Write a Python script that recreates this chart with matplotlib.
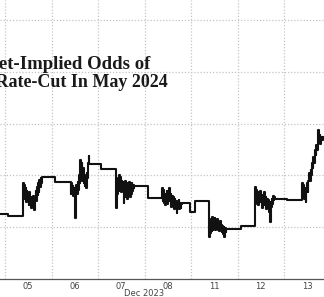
import numpy as np
import matplotlib
matplotlib.use("Agg")
import matplotlib.pyplot as plt

# Trading-day time (0 = start of Dec 05 day) and market-implied odds (%)
t_pre = [-0.108, 0.065]
v_pre = [22.5, 22.2]

s1_start, s1_end = 0.387, 0.782
v_s1 = [28.6, 25.5, 28.2, 26.0, 27.5, 24.8, 27.0, 25.2, 26.5, 24.2, 26.8, 24.5, 25.8, 23.8, 25.5,
        24.0, 26.0, 24.8, 23.3, 25.5, 27.0, 25.0, 27.8, 26.2, 28.5, 26.8, 29.2, 27.8, 29.5, 28.6]
t_n1 = [0.796, 1.075]
v_n1 = [29.8, 28.8]

s2_start, s2_end = 1.398, 1.800
v_s2 = [28.8, 26.5, 28.5, 26.8, 28.0, 26.0, 27.5, 25.5, 21.8, 26.0, 28.2, 26.5, 28.8, 27.2, 30.0,
        28.5, 33.0, 30.5, 32.5, 29.0, 31.5, 28.5, 30.0, 28.0, 29.5, 27.6, 30.5, 29.5, 32.5, 33.8]
t_n2 = [1.806, 2.065]
v_n2 = [32.2, 31.3]

s3_start, s3_end = 2.387, 2.782
v_s3 = [23.7, 29.0, 26.5, 29.5, 27.0, 30.1, 27.5, 29.8, 26.8, 29.0, 27.5, 28.8, 24.7, 28.0, 25.8,
        29.0, 26.5, 28.5, 25.5, 28.2, 26.8, 28.8, 25.8, 28.0, 26.5, 28.5, 27.0, 28.2, 27.5, 28.0]
t_n3 = [2.796, 3.075]
v_n3 = [28.0, 25.65]

s4_start, s4_end = 3.376, 3.792
v_s4 = [27.6, 25.0, 27.2, 24.6, 26.5, 24.2, 26.0, 27.0, 24.5, 26.8, 25.0, 27.5, 25.2, 26.5, 24.0,
        26.0, 24.8, 25.8, 23.5, 25.5, 24.2, 25.0, 22.75, 24.8, 23.8, 25.2, 23.5, 24.6, 23.8, 24.5]
t_n4 = [3.806, 3.978, 4.086]
v_n4 = [24.7, 22.9, 25.1]

s5_start, s5_end = 4.387, 4.760
v_s5 = [18.1, 21.0, 18.8, 21.5, 19.2, 22.0, 19.5, 21.2, 19.8, 21.8, 19.4, 21.0, 20.0, 21.6, 19.5,
        20.8, 19.2, 21.2, 19.6, 20.5, 19.0, 20.2, 18.6, 20.0, 18.1, 19.8, 19.0, 19.6]
t_n5 = [4.774, 5.075]
v_n5 = [19.7, 20.2]

s6_start, s6_end = 5.376, 5.792
v_s6 = [27.8, 24.8, 27.2, 24.5, 26.8, 24.2, 26.5, 24.8, 27.0, 25.0, 26.2, 23.8, 26.0, 24.2, 26.8,
        24.5, 25.8, 23.6, 25.5, 24.0, 25.2, 23.0, 24.8, 21.0, 24.0, 25.5, 24.5, 26.0, 25.2, 25.8]
t_n6 = [5.806, 6.065]
v_n6 = [25.5, 25.3]

s7_start, s7_end = 6.387, 6.830
v_s7 = [28.6, 26.0, 28.2, 25.5, 27.5, 24.9, 27.0, 28.5, 26.8, 29.0, 30.5, 29.0, 31.1, 30.0, 32.5,
        31.5, 33.6, 32.5, 35.0, 34.0, 35.9, 35.0, 37.5, 38.8, 37.0, 37.8, 36.0, 37.5, 36.8, 37.4]

day_labels = ["05", "06", "07", "08", "11", "12", "13"]
month_label = "Dec 2023"
title_line1 = "Market-Implied Odds of"
title_line2 = "a Rate-Cut In May 2024"
grid_levels = [20, 30, 40, 50, 60]


def session(start, end, vals):
    return np.linspace(start, end, len(vals)), np.asarray(vals, dtype=float)


parts_t, parts_v = [np.asarray(t_pre)], [np.asarray(v_pre)]
for (a, b, vals), (tn, vn) in zip(
    [(s1_start, s1_end, v_s1), (s2_start, s2_end, v_s2), (s3_start, s3_end, v_s3),
     (s4_start, s4_end, v_s4), (s5_start, s5_end, v_s5), (s6_start, s6_end, v_s6),
     (s7_start, s7_end, v_s7)],
    [(t_n1, v_n1), (t_n2, v_n2), (t_n3, v_n3), (t_n4, v_n4), (t_n5, v_n5), (t_n6, v_n6), ([], [])],
):
    ts, vs = session(a, b, vals)
    parts_t += [ts, np.asarray(tn, dtype=float)]
    parts_v += [vs, np.asarray(vn, dtype=float)]
t = np.concatenate(parts_t)
v = np.concatenate(parts_v)

W, H = 324, 297
fig = plt.figure(figsize=(W / 100, H / 100), dpi=100)
ax = fig.add_axes([0, (H - 279) / H, 1, 279 / H])

ax.plot(t, v, drawstyle="steps-post", color="#111111", lw=1.5, zorder=3)

ax.set_xlim(-0.1075, 6.86)
ax.set_ylim(10, 63.9)

for g in grid_levels:
    ax.axhline(g, color="#c4c4c4", lw=0.9, ls=(0, (1, 1.5)), zorder=1)
for d in range(7):
    ax.axvline(d, color="#c4c4c4", lw=0.9, ls=(0, (1, 1.5)), zorder=1)

for s in ["top", "right", "left"]:
    ax.spines[s].set_visible(False)
ax.spines["bottom"].set_color("#555555")
ax.spines["bottom"].set_linewidth(0.9)
ax.set_yticks([])
ax.set_xticks(np.arange(7) + 0.5)
ax.set_xticklabels(day_labels, fontsize=6, color="#444444", family="DejaVu Sans")
ax.tick_params(axis="x", length=0, pad=2)

fig.text(144 / W, 1 - 293 / H, month_label, ha="center", va="center",
         fontsize=6, color="#444444", family="DejaVu Sans")

fig.text(150 / W, 1 - 69 / H, title_line1, ha="right", va="baseline",
         fontsize=13.5, color="#1a1a1a", family="Liberation Serif", weight="bold")
fig.text(168 / W, 1 - 87 / H, title_line2, ha="right", va="baseline",
         fontsize=13, color="#1a1a1a", family="Liberation Serif", weight="bold")

fig.savefig("out.png", dpi=100)
